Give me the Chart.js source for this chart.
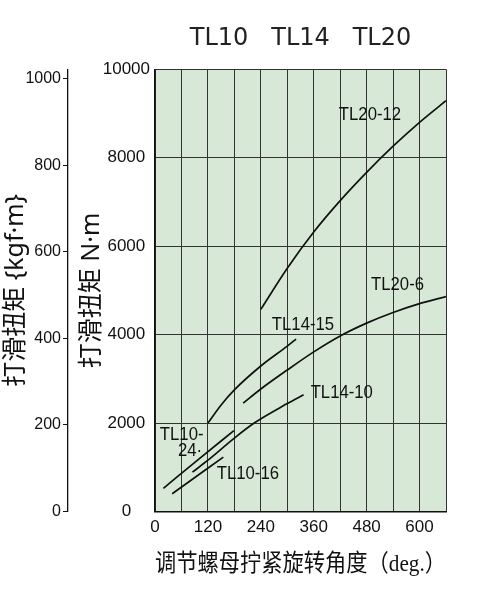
<!DOCTYPE html>
<html>
<head>
<meta charset="utf-8">
<script src="https://cdn.jsdelivr.net/npm/chart.js@4.4.1/dist/chart.umd.min.js"></script>
<style>
html,body{margin:0;padding:0;background:#fff;}
#wrap{width:480px;height:600px;position:relative;}
</style>
</head>
<body>
<div id="wrap"><canvas id="c"></canvas></div>
<script>
// ---- data ----
const chartTitle = "TL10   TL14   TL20";
const xTitle = "调节螺母拧紧旋转角度（deg.）";
const yTitleNm = "打滑扭矩 N·m";
const yTitleKgf = "打滑扭矩 {kgf·m}";

const xTickValues = [0, 120, 240, 360, 480, 600];
const nmTickValues = [0, 2000, 4000, 6000, 8000, 10000];
const kgfTickValues = [0, 200, 400, 600, 800, 1000];

const seriesNames = ["TL20-12", "TL20-6", "TL14-15", "TL14-10", "TL10-24", "TL10-16"];

const tl20_12_deg = [240, 300, 360, 420, 480, 540, 600, 660];
const tl20_12_nm  = [4570, 5500, 6320, 7030, 7670, 8260, 8800, 9290];

const tl20_6_deg = [200, 240, 300, 360, 420, 480, 540, 600, 660];
const tl20_6_nm  = [2450, 2770, 3200, 3610, 3970, 4260, 4500, 4700, 4860];

const tl14_15_deg = [120, 150, 180, 240, 300, 320];
const tl14_15_nm  = [2000, 2410, 2750, 3290, 3740, 3900];

const tl14_10_deg = [85, 120, 180, 225, 300, 337];
const tl14_10_nm  = [890, 1160, 1660, 2000, 2440, 2640];

const tl10_24_deg = [19, 100, 179];
const tl10_24_nm  = [525, 1190, 1830];

const tl10_16_deg = [39, 155];
const tl10_16_nm  = [400, 1230];

// curve annotations (text, anchored in data coordinates)
const noteTexts = ["TL20-12", "TL20-6", "TL14-15", "TL14-10", "TL10-", "24·", "TL10-16"];
const noteDeg   = [417, 490, 265, 353, 11, 52, 140];
const noteNm    = [8980, 5120, 4230, 2680, 1740, 1380, 860];

// ---- build ----
const degArrays = [tl20_12_deg, tl20_6_deg, tl14_15_deg, tl14_10_deg, tl10_24_deg, tl10_16_deg];
const nmArrays  = [tl20_12_nm, tl20_6_nm, tl14_15_nm, tl14_10_nm, tl10_24_nm, tl10_16_nm];

const datasets = seriesNames.map((name, i) => ({
  label: name,
  data: degArrays[i].map((d, j) => ({x: d, y: nmArrays[i][j]})),
  borderColor: '#111',
  borderWidth: 1.7,
  pointRadius: 0,
  fill: false,
  cubicInterpolationMode: 'monotone',
  yAxisID: 'y'
}));

const SANS = '"Liberation Sans", Arial, sans-serif';
const TITLE_FONT = '"Noto Sans", "Noto Sans CJK SC", sans-serif';

const bgPlugin = {
  id: 'bg',
  beforeDraw(chart) {
    const a = chart.chartArea, ctx = chart.ctx;
    ctx.save();
    ctx.fillStyle = '#d7e9d6';
    ctx.fillRect(a.left, a.top, a.right - a.left, a.bottom - a.top);
    ctx.restore();
  }
};

const notePlugin = {
  id: 'notes',
  afterDatasetsDraw(chart) {
    const ctx = chart.ctx, xs = chart.scales.x, ys = chart.scales.y;
    ctx.fillStyle = '#111';
    noteTexts.forEach((t, i) => {
      ctx.save();
      ctx.translate(xs.getPixelForValue(noteDeg[i]), ys.getPixelForValue(noteNm[i]));
      ctx.scale(0.88, 1);
      ctx.font = '19px ' + SANS;
      ctx.textAlign = 'left';
      ctx.textBaseline = 'middle';
      ctx.fillStyle = '#111';
      ctx.fillText(t, 0, 0);
      ctx.restore();
    });
  }
};

new Chart(document.getElementById('c'), {
  type: 'line',
  data: { datasets },
  plugins: [bgPlugin, notePlugin],
  options: {
    responsive: true,
    maintainAspectRatio: false,
    animation: false,
    layout: { padding: { left: 0, right: 34, top: 0, bottom: 18.5 } },
    plugins: {
      legend: { display: false },
      tooltip: { enabled: false },
      title: {
        display: true,
        text: chartTitle,
        fullSize: false,
        color: '#222',
        font: { family: '"DejaVu Sans", sans-serif', size: 24, weight: 'normal', lineHeight: 1.2 },
        padding: { top: 24, bottom: 16.5 }
      }
    },
    scales: {
      x: {
        type: 'linear',
        min: 0, max: 660,
        afterFit(s) { s.height = 70; },
        afterBuildTicks(s) { s.ticks = []; for (let v = 0; v <= 660; v += 60) s.ticks.push({value: v}); },
        grid: { color: '#333', lineWidth: 1, drawTicks: false },
        border: { color: '#111', width: 1.5 },
        ticks: {
          padding: 6,
          color: '#111',
          font: { family: SANS, size: 17 },
          maxRotation: 0,
          autoSkip: false,
          callback: (v) => xTickValues.includes(v) ? String(v) : ''
        },
        title: {
          display: true,
          text: xTitle,
          color: '#111',
          font: { family: '"Liberation Serif", "Noto Sans CJK SC", serif', size: 24, lineHeight: 1.2 },
          padding: { top: 0, bottom: 2 }
        }
      },
      y: {
        type: 'linear',
        position: 'left',
        weight: 0,
        min: 0, max: 10000,
        afterFit(s) { s.width = 87; },
        afterBuildTicks(s) { s.ticks = nmTickValues.map(v => ({value: v})); },
        grid: { color: '#333', lineWidth: 1, drawTicks: false },
        border: { color: '#111', width: 1.5 },
        ticks: {
          padding: 5,
          crossAlign: 'center',
          color: '#111',
          font: { family: SANS, size: 17 },
          callback: (v) => String(v)
        },
        title: {
          display: true,
          text: yTitleNm,
          color: '#111',
          font: { family: TITLE_FONT, size: 25, lineHeight: 1.2 },
          padding: { top: 9, bottom: 0 }
        }
      },
      kgf: {
        type: 'linear',
        position: 'left',
        weight: 10,
        min: 0, max: 1022,
        afterFit(s) { s.width = 68; },
        afterBuildTicks(s) { s.ticks = kgfTickValues.map(v => ({value: v})); },
        grid: { drawOnChartArea: false, drawTicks: true, tickLength: 5, color: '#111', lineWidth: 1 },
        border: { color: '#111', width: 1.3 },
        ticks: {
          padding: 2,
          color: '#111',
          font: { family: SANS, size: 16 },
          callback: (v) => String(v)
        },
        title: {
          display: true,
          text: yTitleKgf,
          color: '#111',
          font: { family: TITLE_FONT, size: 25, lineHeight: 1.2 },
          padding: { top: 1, bottom: 0 }
        }
      }
    }
  }
});
</script>
</body>
</html>
